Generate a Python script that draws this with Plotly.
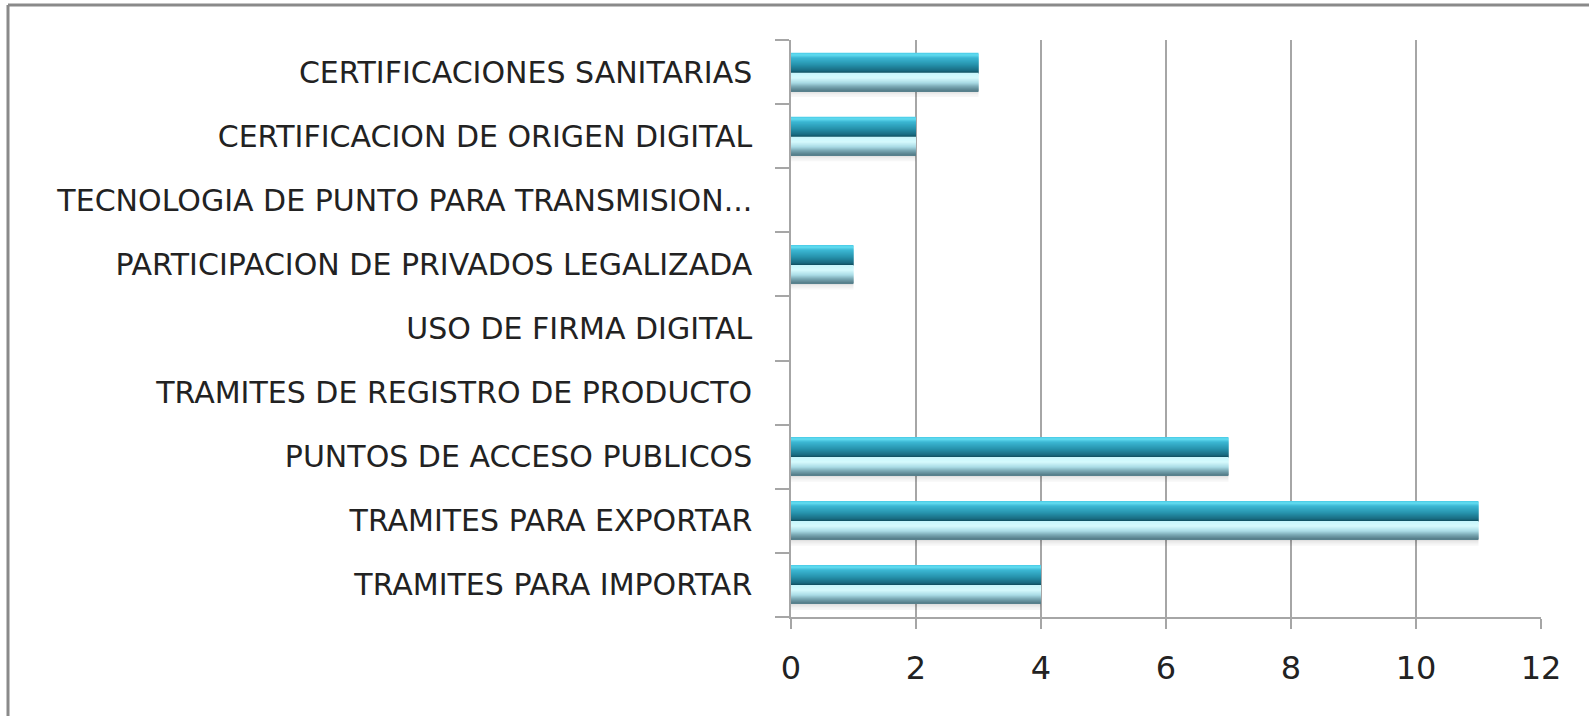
import plotly.graph_objects as go

categories = [
    "TRAMITES PARA IMPORTAR",
    "TRAMITES PARA EXPORTAR",
    "PUNTOS DE ACCESO PUBLICOS",
    "TRAMITES DE REGISTRO DE PRODUCTO",
    "USO DE FIRMA DIGITAL",
    "PARTICIPACION DE PRIVADOS LEGALIZADA",
    "TECNOLOGIA DE PUNTO PARA TRANSMISION...",
    "CERTIFICACION DE ORIGEN DIGITAL",
    "CERTIFICACIONES SANITARIAS",
]
values = [4, 11, 7, 0, 0, 1, 0, 2, 3]
x_ticks = [0, 2, 4, 6, 8, 10, 12]

W, H = 1589, 716
L, R, T, B = 791, 48, 40, 99
band_px = (H - T - B) / len(categories)

# cylinder-like shading: colour stops from top (px position, rgb)
stops = [
    (0, (70, 200, 228)),
    (2, (100, 222, 242)),
    (5, (60, 184, 212)),
    (12, (38, 146, 172)),
    (18, (24, 106, 128)),
    (19.5, (18, 84, 102)),
    (20.5, (200, 246, 252)),
    (25, (214, 250, 253)),
    (30, (170, 220, 230)),
    (34, (120, 166, 178)),
    (38, (84, 124, 136)),
]
total_px = 38


def colour_at(p):
    for (p0, c0), (p1, c1) in zip(stops, stops[1:]):
        if p0 <= p <= p1:
            t = (p - p0) / (p1 - p0) if p1 > p0 else 0
            return "rgb(%d,%d,%d)" % tuple(round(a + (b - a) * t) for a, b in zip(c0, c1))
    return "rgb(%d,%d,%d)" % stops[-1][1]


fig = go.Figure()

# soft shadow below the bar
for k, a in enumerate([0.12, 0.08, 0.05, 0.03]):
    fig.add_trace(go.Bar(
        y=categories, x=values, orientation="h",
        width=1.5 / band_px, offset=-(total_px / 2 + 1.5 * (k + 1)) / band_px,
        marker=dict(color="rgba(0,0,0,%.2f)" % a, line=dict(width=0)),
        hoverinfo="skip", showlegend=False,
    ))

step = 1.0
p = 0.0
while p < total_px - 1e-9:
    off = (total_px / 2 - p - step) / band_px
    fig.add_trace(go.Bar(
        y=categories, x=values, orientation="h",
        width=(step + 0.3) / band_px, offset=off,
        marker=dict(color=colour_at(p + step / 2), line=dict(width=0)),
        showlegend=False, hoverinfo="x+y",
    ))
    p += step

fig.update_layout(
    width=W, height=H,
    margin=dict(l=L, r=R, t=T, b=B),
    barmode="overlay",
    paper_bgcolor="white", plot_bgcolor="white",
    font=dict(family="DejaVu Sans, Open Sans, sans-serif", color="#222222"),
    xaxis=dict(
        range=[0, 12], tickvals=x_ticks, ticktext=[str(v) for v in x_ticks],
        showgrid=True, gridcolor="#a6a6a6", gridwidth=1.5,
        showline=True, linecolor="#a6a6a6", linewidth=1.5,
        ticks="outside", ticklen=10, tickcolor="#a6a6a6", tickwidth=1.5,
        tickfont=dict(family="DejaVu Sans", size=32, color="#222222"),
        ticklabelstandoff=12,
        zeroline=False, fixedrange=True,
    ),
    yaxis=dict(
        categoryorder="array", categoryarray=categories,
        showline=True, linecolor="#a6a6a6", linewidth=1.5,
        ticks="outside", ticklen=14, tickcolor="#a6a6a6", tickwidth=1.5,
        tickson="boundaries", showgrid=False,
        tickfont=dict(family="DejaVu Sans", size=30, color="#222222"),
        ticklabelstandoff=31,
        range=[-0.5, len(categories) - 0.5], fixedrange=True,
    ),
    shapes=[
        dict(type="line", xref="paper", yref="paper",
             x0=(8 - L) / (W - L - R), x1=(8 - L) / (W - L - R),
             y0=-B / (H - T - B) - 0.01,
             y1=1 + (T - 5) / (H - T - B),
             line=dict(color="#8a8a8a", width=3)),
        dict(type="line", xref="paper", yref="paper",
             x0=(8 - L) / (W - L - R), x1=1 + R / (W - L - R) + 0.01,
             y0=1 + (T - 5) / (H - T - B), y1=1 + (T - 5) / (H - T - B),
             line=dict(color="#8a8a8a", width=3)),
    ],
)

fig.write_html("out.html", config={"displayModeBar": False},
               post_script="document.body.style.margin='0';")
